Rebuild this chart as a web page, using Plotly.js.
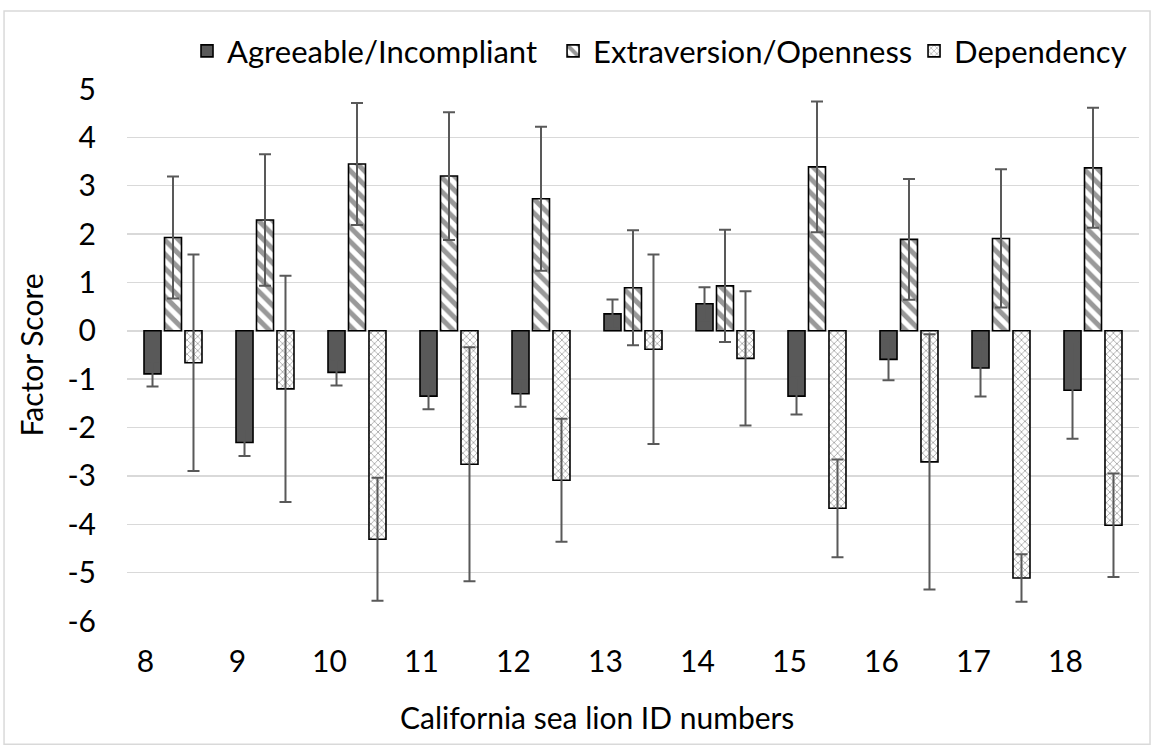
<!DOCTYPE html>
<html>
<head>
<meta charset="utf-8">
<script src="https://cdn.plot.ly/plotly-3.0.1.min.js"></script>
<style>
  html, body { margin: 0; padding: 0; background: #ffffff; }
  #chart { width: 1155px; height: 751px; }
</style>
</head>
<body>
<div id="chart"></div>
<script>
// Sea lion IDs and mean factor scores (with error bars) for each personality factor
const ids = [8, 9, 10, 11, 12, 13, 14, 15, 16, 17, 18];

const agreeable    = [-0.89, -2.31, -0.86, -1.35, -1.30, 0.35, 0.56, -1.35, -0.59, -0.77, -1.23];
const agreeableErr = [0.26, 0.28, 0.27, 0.27, 0.27, 0.30, 0.34, 0.38, 0.43, 0.59, 1.00];

const extraversion    = [1.93, 2.29, 3.45, 3.20, 2.73, 0.89, 0.93, 3.39, 1.89, 1.91, 3.37];
const extraversionErr = [1.26, 1.36, 1.26, 1.32, 1.49, 1.19, 1.16, 1.35, 1.25, 1.43, 1.24];

const dependency    = [-0.66, -1.20, -4.31, -2.76, -3.09, -0.38, -0.57, -3.67, -2.71, -5.11, -4.02];
const dependencyErr = [2.24, 2.34, 1.27, 2.42, 1.27, 1.96, 1.39, 1.01, 2.64, 0.49, 1.07];

const seriesNames = ['Agreeable/Incompliant', 'Extraversion/Openness', 'Dependency'];
const yTicks = [-6, -5, -4, -3, -2, -1, 0, 1, 2, 3, 4, 5];
const xTitle = 'California sea lion ID numbers';
const yTitle = 'Factor Score';

const FONT = 'Lato, "Open Sans", sans-serif';
const TXT = { family: FONT, size: 30, color: '#000000' };
const errStyle = { type: 'data', visible: true, thickness: 2, width: 6, color: '#595959' };

const traces = [
  {
    type: 'bar', name: seriesNames[0], x: ids, y: agreeable, legend: 'legend',
    marker: { color: '#595959', line: { color: '#000000', width: 1.6 } },
    error_y: Object.assign({ array: agreeableErr }, errStyle)
  },
  {
    type: 'bar', name: seriesNames[1], x: ids, y: extraversion, legend: 'legend2',
    marker: {
      color: '#ffffff',
      line: { color: '#000000', width: 1.6 },
      pattern: { shape: '\\', fgcolor: '#333333', bgcolor: '#ffffff', size: 10, solidity: 0.5, fillmode: 'overlay' }
    },
    error_y: Object.assign({ array: extraversionErr }, errStyle)
  },
  {
    type: 'bar', name: seriesNames[2], x: ids, y: dependency, legend: 'legend3',
    marker: {
      color: '#ffffff',
      line: { color: '#000000', width: 1.6 },
      pattern: { shape: 'x', fgcolor: '#474747', bgcolor: '#ffffff', size: 5, solidity: 0.3, fillmode: 'overlay' }
    },
    error_y: Object.assign({ array: dependencyErr }, errStyle)
  }
];

// one single-entry legend per series, laid out in a row above the plot
function legendAt(x) {
  return {
    orientation: 'h', x: x, xanchor: 'left', y: 1.071, yanchor: 'middle',
    font: { family: FONT, size: 31, color: '#000000' },
    itemwidth: 30, bgcolor: 'rgba(0,0,0,0)', borderwidth: 0
  };
}

const layout = {
  width: 1155, height: 751,
  paper_bgcolor: '#ffffff', plot_bgcolor: '#ffffff',
  margin: { l: 127, r: 16, t: 89, b: 129.5, pad: 0, autoexpand: false },
  font: TXT,
  barmode: 'group', bargap: 0.332, bargroupgap: 0.17,
  showlegend: true,
  legend: legendAt(0.0593),
  legend2: legendAt(0.421),
  legend3: legendAt(0.7777),
  xaxis: {
    type: 'linear', range: [7.5, 18.5], fixedrange: true,
    tickmode: 'array', tickvals: ids.map(v => v - 0.3), ticktext: ids.map(String),
    showgrid: false, zeroline: false, showline: false, ticks: '',
    ticklabelstandoff: 20,
    tickfont: TXT
  },
  yaxis: {
    range: [-6, 5], fixedrange: true,
    tickmode: 'array', tickvals: yTicks, ticktext: yTicks.map(String),
    showgrid: true, gridcolor: '#d9d9d9', gridwidth: 1.5,
    zeroline: false, showline: false, ticks: '',
    ticklabelstandoff: 30,
    tickfont: TXT,
    title: { text: yTitle, font: TXT, standoff: 14 }
  },
  annotations: [
    { text: xTitle, xref: 'paper', yref: 'paper', x: 0.464, y: -0.181,
      xanchor: 'center', yanchor: 'middle', showarrow: false, font: TXT }
  ],
  shapes: [
    { type: 'rect', xref: 'paper', yref: 'paper', x0: -0.1215, x1: 1.0109, y0: -0.2319, y1: 1.1465,
      line: { color: '#d9d9d9', width: 1.5 }, fillcolor: 'rgba(0,0,0,0)', layer: 'below' }
  ]
};

Plotly.newPlot('chart', traces, layout, { displayModeBar: false, staticPlot: true });
</script>
</body>
</html>
